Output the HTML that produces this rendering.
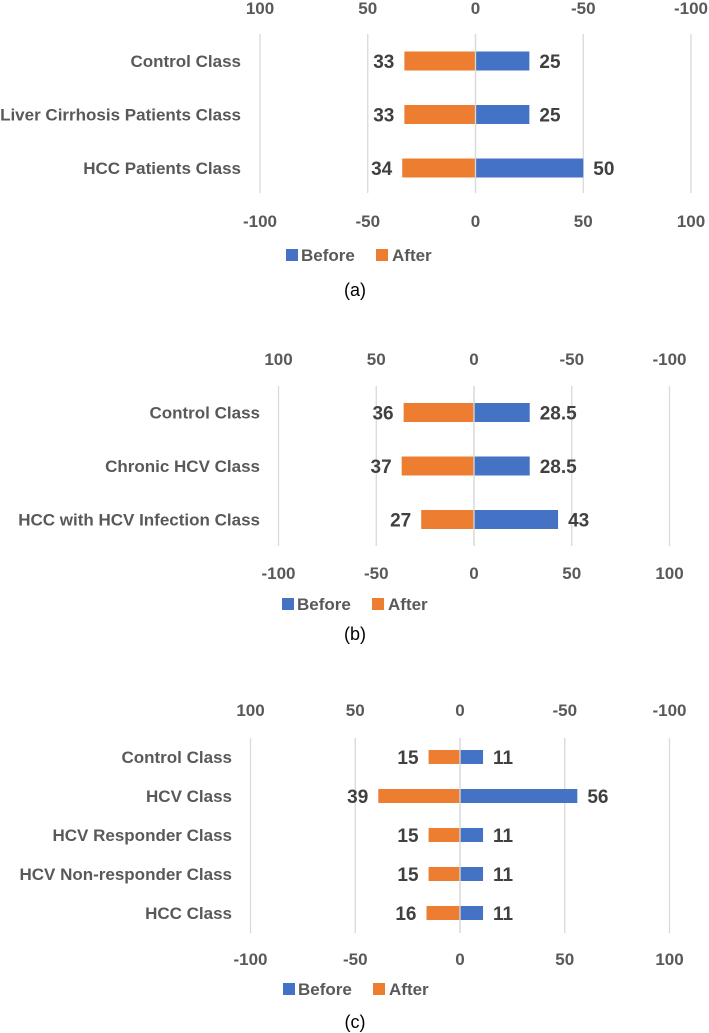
<!DOCTYPE html>
<html><head><meta charset="utf-8">
<style>
body{margin:0;background:#fff;width:709px;height:1033px;overflow:hidden}
svg{display:block}
text{font-family:"Liberation Sans",sans-serif}
</style></head>
<body>
<svg id="s" width="709" height="1033" xmlns="http://www.w3.org/2000/svg"></svg>
<script>
const catsA = ["Control Class","Liver Cirrhosis Patients Class","HCC Patients Class"];
const beforeA = [25,25,50];
const afterA = [33,33,34];
const catsB = ["Control Class","Chronic HCV Class","HCC with HCV Infection Class"];
const beforeB = [28.5,28.5,43];
const afterB = [36,37,27];
const catsC = ["Control Class","HCV Class","HCV Responder Class","HCV Non-responder Class","HCC Class"];
const beforeC = [11,56,11,11,11];
const afterC = [15,39,15,15,16];
const topTicks = ["100","50","0","-50","-100"];
const bottomTicks = ["-100","-50","0","50","100"];
const tickVals = [-100,-50,0,50,100];

const NS="http://www.w3.org/2000/svg";
const svg=document.getElementById('s');
function el(tag,attrs,parent,txt){const e=document.createElementNS(NS,tag);for(const k in attrs)e.setAttribute(k,attrs[k]);if(txt!==undefined)e.textContent=txt;(parent||svg).appendChild(e);return e;}

function chart(id,cfg,cats,before,after){
  const g=el('g',{},svg);
  
  
  const x=v=>cfg.x0+v*cfg.k;
  tickVals.forEach((v,i)=>{
    const l=el('line',{x1:x(v),x2:x(v),y1:cfg.gTop,y2:cfg.gBot,stroke:'#d9d9d9','stroke-width':1.3},g);
    
    
    const t1=el('text',{x:x(v),y:cfg.topY+6,'text-anchor':'middle','font-size':17,'font-weight':'bold',fill:'#595959'},g,topTicks[i]);
    
    
    const t2=el('text',{x:x(v),y:cfg.botY+6,'text-anchor':'middle','font-size':17,'font-weight':'bold',fill:'#595959'},g,bottomTicks[i]);
    
    
  });
  cats.forEach((c,i)=>{
    const yc=cfg.y0+i*cfg.step, h=cfg.bh;
    const a=el('rect',{x:x(-after[i]),y:yc-h/2,width:after[i]*cfg.k,height:h,fill:'#ed7d31'},g);
    
    
    const b=el('rect',{x:x(0),y:yc-h/2,width:before[i]*cfg.k,height:h,fill:'#4472c4'},g);
    
    
    const cl=el('text',{x:cfg.labX,y:yc+6,'text-anchor':'end','font-size':17,'font-weight':'bold',fill:'#595959'},g,c);
    
    
    const va=el('text',{x:x(-after[i])-10,y:yc+7,'text-anchor':'end','font-size':19,'font-weight':'bold',fill:'#404040'},g,String(after[i]));
    
    
    const vb=el('text',{x:x(before[i])+10,y:yc+7,'text-anchor':'start','font-size':19,'font-weight':'bold',fill:'#404040'},g,String(before[i]));
    
    
  });
  el('line',{x1:x(0),x2:x(0),y1:cfg.gTop,y2:cfg.gBot,stroke:'#d9d9d9','stroke-width':1.3},g);
  const r1=el('rect',{x:cfg.legX,y:cfg.legY-6,width:12,height:12,fill:'#4472c4'},g);
  
  
  const l1=el('text',{x:cfg.legX+15,y:cfg.legY+6,'font-size':17,'font-weight':'bold',fill:'#595959'},g,'Before');
  
  
  const r2=el('rect',{x:cfg.legX+90,y:cfg.legY-6,width:12,height:12,fill:'#ed7d31'},g);
  
  
  const l2=el('text',{x:cfg.legX+106,y:cfg.legY+6,'font-size':17,'font-weight':'bold',fill:'#595959'},g,'After');
  
  
  const cap=el('text',{x:355,y:cfg.capY+6,'text-anchor':'middle','font-size':18,fill:'#000','font-family':'Liberation Serif, serif'},g,'('+id+')');
  
  
}
chart('a',{x0:475.5,k:2.155,gTop:34,gBot:193,topY:8,botY:221,y0:61,step:53.5,bh:19,labX:241,legX:286,legY:255,capY:290},catsA,beforeA,afterA);
chart('b',{x0:474,k:1.955,gTop:386,gBot:546,topY:359,botY:573,y0:412.5,step:53.5,bh:19,labX:260,legX:282,legY:604,capY:634},catsB,beforeB,afterB);
chart('c',{x0:460,k:2.095,gTop:738,gBot:933,topY:710,botY:959,y0:757,step:39,bh:14,labX:232,legX:283,legY:989,capY:1022},catsC,beforeC,afterC);
</script>
</body></html>
